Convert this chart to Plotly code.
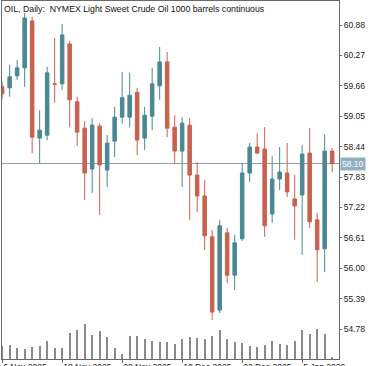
import plotly.graph_objects as go

dates = ["2025-11-06", "2025-11-07", "2025-11-10", "2025-11-11", "2025-11-12", "2025-11-13",
         "2025-11-14", "2025-11-17", "2025-11-18", "2025-11-19", "2025-11-20", "2025-11-21",
         "2025-11-24", "2025-11-25", "2025-11-26", "2025-11-27", "2025-11-28", "2025-12-01",
         "2025-12-02", "2025-12-03", "2025-12-04", "2025-12-05", "2025-12-08", "2025-12-09",
         "2025-12-10", "2025-12-11", "2025-12-12", "2025-12-15", "2025-12-16", "2025-12-17",
         "2025-12-18", "2025-12-19", "2025-12-22", "2025-12-23", "2025-12-24", "2025-12-26",
         "2025-12-29", "2025-12-30", "2025-12-31", "2026-01-02", "2026-01-05", "2026-01-06",
         "2026-01-07", "2026-01-08", "2026-01-09"]

opens = [59.64, 59.62, 59.86, 60.02, 60.96, 58.61, 58.67, 59.70, 59.70, 60.50, 59.34, 58.81,
         57.99, 58.85, 57.97, 58.55, 59.03, 59.03, 59.53, 58.61, 59.05, 59.66, 60.14, 58.83,
         58.35, 58.87, 57.87, 57.45, 56.63, 55.16, 56.71, 55.86, 56.59, 57.91, 58.43, 58.39,
         57.09, 57.79, 57.91, 57.39, 57.47, 58.31, 56.97, 56.39, 58.35]
highs = [59.74, 60.08, 60.18, 61.12, 61.04, 59.17, 60.04, 60.62, 60.90, 60.56, 59.44, 58.95,
         59.01, 58.91, 58.67, 59.24, 59.94, 59.92, 59.62, 59.24, 60.02, 60.44, 60.34, 59.07,
         59.03, 59.01, 58.13, 57.77, 56.77, 56.97, 56.81, 56.67, 58.11, 58.51, 58.71, 58.83,
         58.25, 58.43, 58.51, 57.87, 58.47, 58.81, 57.11, 58.69, 58.41]
lows = [59.40, 59.44, 59.78, 59.64, 58.31, 58.11, 58.57, 59.32, 59.58, 58.83, 58.45, 57.37,
        57.51, 57.07, 57.63, 58.23, 58.90, 58.83, 58.27, 58.37, 58.77, 59.38, 58.63, 58.11,
        57.63, 56.97, 57.13, 56.37, 54.96, 55.10, 55.70, 55.56, 56.55, 57.73, 58.29, 56.63,
        56.91, 57.57, 57.43, 56.57, 56.27, 56.81, 55.72, 55.92, 57.93]
closes = [59.50, 59.84, 60.02, 61.02, 58.63, 58.77, 59.92, 59.69, 60.68, 59.38, 58.73, 57.91,
          58.87, 58.07, 58.51, 59.03, 59.42, 59.47, 58.57, 59.07, 59.70, 60.14, 58.81, 58.35,
          58.91, 57.87, 57.45, 56.65, 55.12, 56.85, 55.86, 56.51, 57.91, 58.43, 58.31, 56.85,
          57.79, 57.93, 57.53, 57.25, 58.29, 56.93, 56.37, 58.35, 58.10]
volumes = [1300, 1400, 1100, 1000, 1200, 1300, 1800, 1100, 1100, 2600, 2900, 3500, 2400, 2800,
           2200, 1100, 500, 2300, 2300, 2000, 1800, 1700, 1700, 1500, 2000, 2200, 2100, 2000,
           2300, 2900, 2000, 1700, 1600, 1300, 1200, 1400, 1800, 1500, 1400, 1800, 2900, 2500,
           3000, 2500, 200]

price_ticks = [54.78, 55.39, 56.00, 56.61, 57.22, 57.83, 58.44, 59.05, 59.66, 60.27, 60.88]
date_tick_idx = [0, 8, 16, 24, 32, 40]
date_tick_text = ["6 Nov 2025", "18 Nov 2025", "28 Nov 2025", "10 Dec 2025", "22 Dec 2025", "5 Jan 2026"]
last_price = 58.10
title_text = "OIL, Daily:  NYMEX Light Sweet Crude Oil 1000 barrels continuous"

BULL = "#4a8893"
BEAR = "#c9614f"
FONT = "Liberation Sans, Arial, sans-serif"

fig = go.Figure()
fig.add_trace(go.Bar(
    x=dates, y=volumes, yaxis="y2", width=0.13,
    marker=dict(color="#8a8a8a", line=dict(width=0)),
    hoverinfo="skip", showlegend=False,
))
fig.add_trace(go.Candlestick(
    x=dates, open=opens, high=highs, low=lows, close=closes,
    increasing=dict(line=dict(color=BULL, width=1), fillcolor=BULL),
    decreasing=dict(line=dict(color=BEAR, width=1), fillcolor=BEAR),
    whiskerwidth=0, showlegend=False,
))

fig.add_shape(type="line", xref="paper", x0=0, x1=1, yref="y", y0=last_price, y1=last_price,
              line=dict(color="#8f9ca0", width=1), layer="below")

fig.add_annotation(xref="paper", yref="y", x=1.0, y=last_price, xanchor="left", yanchor="middle",
                   text=f"{last_price:.2f}", showarrow=False, xshift=1,
                   font=dict(family=FONT, size=8.5, color="white"),
                   bgcolor="#8fb1bf", borderpad=1)
fig.add_annotation(xref="paper", yref="paper", x=0, y=1, xanchor="left", yanchor="top",
                   text=title_text, showarrow=False, xshift=0, yshift=-1,
                   font=dict(family=FONT, size=8.75, color="#111111"))

fig.update_layout(
    width=375, height=366,
    margin=dict(l=2, r=36, t=1, b=7, autoexpand=False),
    paper_bgcolor="white", plot_bgcolor="white",
    boxgap=0.33,
    font=dict(family=FONT, size=8.5, color="#222222"),
    xaxis=dict(
        type="category", range=[-0.02, 44.91], rangeslider=dict(visible=False),
        tickmode="array", tickvals=[dates[i] for i in date_tick_idx], ticktext=date_tick_text,
        ticklabelposition="outside right", tickangle=0, automargin=False,
        showgrid=False, zeroline=False,
        showline=True, mirror=True, linecolor="#6a6a6a", linewidth=1,
        ticks="outside", ticklen=3, tickcolor="#6a6a6a",
    ),
    yaxis=dict(
        side="right", range=[54.178, 61.3615], automargin=False,
        tickmode="array", tickvals=price_ticks, ticktext=[f"{v:.2f}" for v in price_ticks],
        showgrid=False, zeroline=False,
        showline=True, mirror=True, linecolor="#6a6a6a", linewidth=1,
        ticks="outside", ticklen=2, tickcolor="#6a6a6a",
    ),
    yaxis2=dict(overlaying="y", range=[0, 35800], visible=False, fixedrange=True),
)

fig.write_html("out.html", config={"displayModeBar": False},
               post_script="document.body.style.margin='0';")
